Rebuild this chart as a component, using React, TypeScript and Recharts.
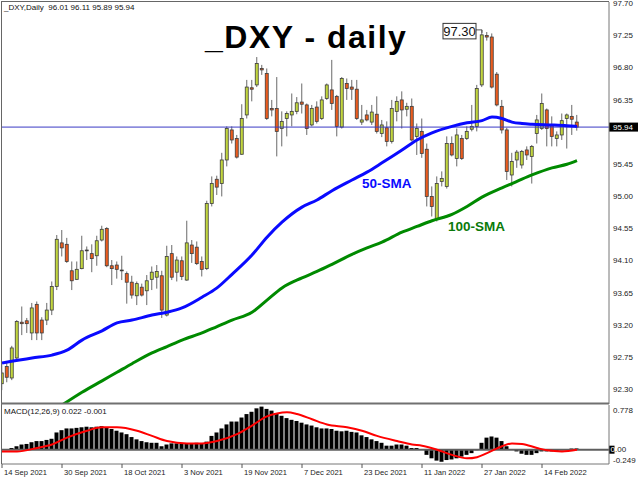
import React from "react";
import {
  ComposedChart,
  Bar,
  Line,
  XAxis,
  YAxis,
  ReferenceLine,
  ReferenceDot,
} from "recharts";

const FONT = '"Liberation Sans", Arial, sans-serif';

// ---- daily bars (index 0 = 14 Sep 2021) ----
const opens = [
  92.35, 92.59, 92.43, 92.71, 93.21, 93.23, 93.06, 93.46, 93.24, 93.24,
  93.38, 93.71, 94.32, 94.30, 93.93, 93.81, 93.96, 94.21, 94.17, 94.14,
  94.36, 94.52, 94.00, 94.01, 93.94, 93.89, 93.77, 93.58, 93.70, 93.65,
  93.81, 93.84, 93.86, 93.31, 94.17, 93.91, 94.07, 93.80, 94.29, 94.26,
  94.06, 93.96, 94.87, 95.21, 95.15, 95.48, 95.90, 95.78, 95.56, 96.11,
  96.49, 96.53, 96.76, 96.69, 96.20, 96.20, 95.92, 96.06, 96.11, 96.16,
  96.29, 96.25, 95.97, 96.22, 96.06, 96.34, 96.46, 96.37, 95.94, 96.55,
  96.50, 96.47, 96.01, 96.11, 96.01, 96.12, 95.85, 95.93, 95.74, 96.16,
  96.32, 96.19, 96.23, 95.81, 95.88, 95.63, 94.97, 94.66, 95.18, 95.11,
  95.71, 95.50, 95.78, 95.78, 95.91, 95.95, 96.53, 97.22, 97.20, 96.68,
  96.23, 95.90, 95.27, 95.48, 95.41, 95.62, 95.53, 95.85, 95.92, 96.18,
  95.97, 95.78, 95.83, 96.06, 96.09, 96.01,
];
const highs = [
  92.61, 92.64, 92.88, 93.24, 93.43, 93.27, 93.48, 93.50, 93.28, 93.48,
  93.78, 94.43, 94.50, 94.39, 94.06, 94.06, 94.42, 94.27, 94.30, 94.42,
  94.56, 94.54, 94.08, 94.06, 94.14, 93.92, 93.86, 93.78, 93.75, 93.87,
  93.99, 94.01, 93.93, 94.28, 94.29, 94.13, 94.13, 94.63, 94.36, 94.34,
  94.13, 94.91, 95.25, 95.26, 95.58, 95.95, 95.95, 95.83, 96.26, 96.60,
  96.60, 96.92, 96.81, 96.76, 96.32, 96.64, 96.16, 96.16, 96.41, 96.36,
  96.55, 96.27, 96.25, 96.30, 96.37, 96.55, 96.88, 96.39, 96.64, 96.62,
  96.60, 96.60, 96.25, 96.18, 96.25, 96.37, 96.04, 96.02, 96.32, 96.37,
  96.44, 96.28, 96.34, 95.99, 96.06, 95.71, 95.11, 95.25, 95.32, 95.81,
  95.81, 95.92, 95.83, 95.95, 96.25, 96.53, 97.30, 97.27, 97.25, 96.71,
  96.32, 95.93, 95.58, 95.62, 95.62, 95.67, 95.69, 96.11, 96.41, 96.20,
  96.09, 95.88, 96.13, 96.13, 96.25, 96.11,
];
const lows = [
  92.26, 92.37, 92.40, 92.68, 93.03, 93.06, 92.96, 92.96, 92.96, 93.17,
  93.31, 93.66, 94.13, 94.04, 93.66, 93.80, 93.95, 94.08, 93.91, 94.00,
  94.34, 93.98, 93.73, 93.82, 93.80, 93.47, 93.54, 93.45, 93.57, 93.45,
  93.66, 93.68, 93.27, 93.29, 93.80, 93.78, 93.80, 93.79, 94.04, 94.01,
  93.85, 93.94, 94.83, 94.99, 94.97, 95.39, 95.71, 95.50, 95.55, 96.06,
  96.30, 96.50, 96.67, 96.04, 96.09, 95.53, 95.67, 95.81, 95.95, 96.12,
  96.13, 95.83, 95.95, 95.99, 96.04, 96.32, 96.18, 95.81, 95.92, 96.32,
  96.32, 96.04, 95.97, 96.02, 95.97, 95.85, 95.80, 95.67, 95.71, 96.02,
  95.92, 96.09, 95.74, 95.55, 95.51, 94.83, 94.69, 94.62, 95.11, 95.08,
  95.53, 95.39, 95.48, 95.76, 95.88, 95.88, 96.50, 97.15, 96.48, 96.23,
  95.85, 95.20, 95.11, 95.37, 95.36, 95.48, 95.15, 95.71, 95.90, 95.67,
  95.67, 95.67, 95.76, 95.64, 95.83, 95.89,
];
const closes = [
  92.50, 92.44, 92.85, 93.22, 93.19, 93.19, 93.41, 93.06, 93.06, 93.38,
  93.71, 94.37, 94.25, 94.06, 93.79, 93.95, 94.21, 94.22, 94.10, 94.35,
  94.51, 94.00, 93.96, 93.95, 93.93, 93.77, 93.59, 93.75, 93.59, 93.79,
  93.91, 93.92, 93.38, 94.13, 93.84, 94.08, 93.85, 94.32, 94.17, 94.03,
  93.95, 94.87, 95.15, 95.10, 95.48, 95.92, 95.76, 95.52, 96.06, 96.50,
  96.47, 96.83, 96.74, 96.06, 96.18, 95.88, 96.02, 96.13, 96.16, 96.28,
  96.26, 95.92, 96.20, 96.02, 96.32, 96.53, 96.27, 95.95, 96.62, 96.48,
  96.47, 96.06, 96.04, 96.04, 96.15, 95.88, 95.97, 95.74, 96.20, 96.30,
  96.18, 96.23, 95.76, 95.92, 95.57, 94.97, 94.83, 95.15, 95.22, 95.71,
  95.55, 95.83, 95.50, 95.88, 95.95, 96.48, 97.23, 97.20, 96.50, 96.25,
  95.90, 95.32, 95.46, 95.59, 95.60, 95.55, 95.67, 96.04, 96.27, 95.92,
  95.81, 95.83, 96.03, 96.11, 96.05, 95.94,
];

// ---- moving averages (bar index / value) ----
const sma50Bars = [0, 6, 10, 13, 16, 20, 23, 26, 30, 33, 36, 40, 43, 46, 50, 53, 56, 60, 63, 66, 70, 73, 76, 80, 83, 86, 90, 93, 96, 98, 100, 102, 104, 106, 110, 113, 115];
const sma50Vals = [92.64, 92.71, 92.75, 92.82, 92.96, 93.09, 93.20, 93.24, 93.31, 93.35, 93.41, 93.56, 93.69, 93.88, 94.15, 94.40, 94.61, 94.82, 94.92, 95.05, 95.20, 95.31, 95.44, 95.62, 95.76, 95.86, 95.95, 96.00, 96.03, 96.08, 96.06, 96.01, 95.99, 95.98, 95.97, 95.96, 95.95];
const sma100Bars = [12, 16, 20, 23, 26, 30, 33, 36, 40, 43, 46, 50, 53, 56, 60, 63, 66, 70, 73, 76, 80, 83, 86, 90, 93, 96, 100, 103, 106, 110, 113, 115];
const sma100Vals = [92.05, 92.23, 92.39, 92.51, 92.63, 92.78, 92.87, 92.96, 93.06, 93.15, 93.24, 93.35, 93.52, 93.69, 93.83, 93.92, 94.02, 94.16, 94.25, 94.33, 94.47, 94.55, 94.63, 94.72, 94.83, 94.96, 95.09, 95.18, 95.27, 95.37, 95.42, 95.47];

// ---- MACD(12,26,9) ----
const macdMain = [
  0.0, 0.01, 0.03, 0.06, 0.09, 0.1, 0.13, 0.15, 0.15, 0.17,
  0.19, 0.3, 0.34, 0.37, 0.37, 0.38, 0.39, 0.4, 0.39, 0.4,
  0.41, 0.38, 0.36, 0.33, 0.3, 0.27, 0.22, 0.18, 0.15, 0.13,
  0.12, 0.12, 0.06, 0.09, 0.11, 0.11, 0.1, 0.11, 0.11, 0.12,
  0.11, 0.14, 0.24, 0.3, 0.37, 0.44, 0.49, 0.49, 0.56, 0.62,
  0.66, 0.72, 0.75, 0.71, 0.68, 0.63, 0.59, 0.55, 0.52, 0.5,
  0.47, 0.44, 0.42, 0.39, 0.37, 0.37, 0.36, 0.33, 0.32, 0.33,
  0.31, 0.3, 0.25, 0.22, 0.18, 0.15, 0.12, 0.07, 0.07, 0.09,
  0.09, 0.07, 0.03, 0.03, 0.0, -0.09, -0.15, -0.19, -0.21, -0.18,
  -0.17, -0.15, -0.12, -0.09, -0.06, -0.01, 0.12, 0.21, 0.23, 0.21,
  0.15, 0.06, 0.0, -0.03, -0.07, -0.09, -0.09, -0.06, -0.03, -0.03,
  -0.03, -0.03, -0.01, 0.0, 0.02, 0.022,
];
const signalBars = [0, 3, 7, 10, 13, 17, 20, 23, 27, 30, 33, 37, 40, 43, 47, 50, 53, 55, 57, 59, 62, 65, 69, 72, 75, 79, 82, 84, 87, 90, 93, 95, 97, 100, 102, 104, 107, 109, 112, 115];
const signalVals = [-0.03, -0.03, 0.03, 0.09, 0.21, 0.33, 0.39, 0.39, 0.33, 0.24, 0.15, 0.11, 0.11, 0.15, 0.27, 0.42, 0.58, 0.63, 0.65, 0.62, 0.53, 0.44, 0.39, 0.33, 0.24, 0.15, 0.09, 0.07, 0.0, -0.09, -0.15, -0.13, -0.06, 0.06, 0.11, 0.1, 0.03, -0.01, -0.03, -0.001];

// ---- axes ----
const dateTickBars = [0, 12, 24, 36, 48, 60, 72, 84, 96, 108];
const dateLabels = ["14 Sep 2021", "30 Sep 2021", "18 Oct 2021", "3 Nov 2021", "19 Nov 2021", "7 Dec 2021", "23 Dec 2021", "11 Jan 2022", "27 Jan 2022", "14 Feb 2022"];
const priceTicks = [92.3, 92.75, 93.2, 93.65, 94.1, 94.55, 95.0, 95.45, 96.35, 96.8, 97.25, 97.7];
const priceDomain = [92.066, 97.69];
const macdDomain = [-0.249, 0.778];
const barSlots = 121.4;

const lastPrice = 95.94;
const peakBar = 96;
const peakPrice = 97.3;

const UP = "#c2d63e";
const DOWN = "#ec5c1e";

const rows = opens.map((o, i) => ({
  i,
  open: o,
  high: highs[i],
  low: lows[i],
  close: closes[i],
  range: [lows[i], highs[i]],
  macd: macdMain[i],
  sma50: null as number | null,
  sma100: null as number | null,
  signal: null as number | null,
}));
sma50Bars.forEach((b, k) => (rows[b].sma50 = sma50Vals[k]));
sma100Bars.forEach((b, k) => (rows[b].sma100 = sma100Vals[k]));
signalBars.forEach((b, k) => (rows[b].signal = signalVals[k]));

const Candle = (props: any) => {
  const { x, y, width, height, payload } = props;
  if (!payload) return null;
  const cx = x + width / 2;
  const { open, close, high, low } = payload;
  const span = high - low || 1;
  const py = (v: number) => y + ((high - v) / span) * height;
  const top = py(Math.max(open, close));
  const bot = py(Math.min(open, close));
  const up = close >= open;
  return (
    <g>
      <line x1={cx} x2={cx} y1={y} y2={y + height} stroke="#6a6a6a" strokeWidth={1} />
      <rect
        x={cx - 1.5}
        y={top}
        width={3}
        height={Math.max(bot - top, 0.8)}
        fill={up ? UP : DOWN}
        stroke="#3c3c3c"
        strokeWidth={0.8}
      />
    </g>
  );
};

const PriceTick = (p: any) => (
  <text x={p.x} y={p.y + 2} dy="0.35em" fontSize={8} fill="#222" fontFamily={FONT} textAnchor="start">
    {Number(p.payload.value).toFixed(2)}
  </text>
);

const MacdTick = (p: any) => {
  const v = Number(p.payload.value);
  const shift = v > 0 ? 5 : -4;
  return (
    <text x={p.x} y={p.y + shift} dy="0.35em" fontSize={8} fill="#222" fontFamily={FONT} textAnchor="start">
      {v.toFixed(3)}
    </text>
  );
};

const DateTick = (p: any) => (
  <text x={p.x + 2} y={p.y + 5} fontSize={7.6} fill="#222" fontFamily={FONT} textAnchor="start">
    {dateLabels[dateTickBars.indexOf(p.payload.value)]}
  </text>
);

const PriceTag = (p: any) => {
  const vb = p.viewBox || {};
  const x = (vb.x || 0) + (vb.width || 0);
  const y = vb.y || 0;
  return (
    <g>
      <rect x={x} y={y - 4.5} width={29} height={9} fill="#000" />
      <text x={x + 4} y={y} dy="0.35em" fontSize={8} fill="#fff" fontFamily={FONT}>
        {lastPrice.toFixed(2)}
      </text>
    </g>
  );
};

const ZeroTag = (p: any) => {
  const vb = p.viewBox || {};
  const x = (vb.x || 0) + (vb.width || 0);
  const y = vb.y || 0;
  return (
    <g>
      <rect x={x} y={y - 4} width={5.5} height={8} fill="#000" />
      <text x={x + 1.5} y={y} dy="0.35em" fontSize={8} fontFamily={FONT}>
        <tspan fill="#fff">0</tspan>
        <tspan fill="#222">.00</tspan>
      </text>
    </g>
  );
};

const PeakTag = (p: any) => {
  const { cx, cy } = p;
  if (cx == null || cy == null) return null;
  const boxR = cx - 6;
  const boxW = 33;
  return (
    <g>
      <polyline points={`${boxR},${cy} ${cx},${cy} ${cx},${cy + 3}`} fill="none" stroke="#555" strokeWidth={1} />
      <rect x={boxR - boxW} y={cy - 6.5} width={boxW} height={15.5} fill="#fff" stroke="#333" strokeWidth={1} />
      <text x={boxR - boxW / 2} y={cy + 6} textAnchor="middle" fontSize={13} fill="#111" fontFamily={FONT}>
        {peakPrice.toFixed(2)}
      </text>
    </g>
  );
};

export default function App() {
  return (
    <div style={{ position: "absolute", left: 0, top: 0, width: 640, height: 480, background: "#fff", overflow: "hidden" }}>
      <div style={{ position: "absolute", left: 0, top: 0 }}>
        <ComposedChart width={640} height={405} data={rows} margin={{ top: 2, right: 0, bottom: 1, left: 2 }}>
          <XAxis type="number" dataKey="i" domain={[0, barSlots]} hide allowDataOverflow />
          <YAxis
            orientation="right"
            width={31}
            domain={priceDomain}
            ticks={priceTicks}
            interval={0}
            allowDataOverflow
            tickLine={false}
            tickSize={0}
            tickMargin={4}
            axisLine={{ stroke: "#777" }}
            tick={<PriceTick />}
          />
          <ReferenceLine y={lastPrice} stroke="#3a3ac4" strokeWidth={1} label={<PriceTag />} />
          <Bar dataKey="range" barSize={5} shape={(p: any) => <Candle {...p} />} isAnimationActive={false} />
          <Line dataKey="sma100" stroke="#008a00" strokeWidth={3} dot={false} connectNulls type="monotone" isAnimationActive={false} />
          <Line dataKey="sma50" stroke="#0a0aff" strokeWidth={3} dot={false} connectNulls type="monotone" isAnimationActive={false} />
          <ReferenceDot x={peakBar} y={peakPrice} r={0} shape={(p: any) => <PeakTag {...p} />} />
        </ComposedChart>
      </div>
      <div style={{ position: "absolute", left: 0, top: 404 }}>
        <ComposedChart width={640} height={76} data={rows} margin={{ top: 1, right: 0, bottom: 0, left: 2 }}>
          <XAxis
            type="number"
            dataKey="i"
            domain={[0, barSlots]}
            ticks={dateTickBars}
            interval={0}
            allowDataOverflow
            height={16}
            tickSize={4}
            tickMargin={2}
            tickLine={{ stroke: "#555" }}
            axisLine={{ stroke: "#777" }}
            tick={<DateTick />}
          />
          <YAxis
            orientation="right"
            width={31}
            domain={macdDomain}
            ticks={macdDomain}
            interval={0}
            allowDataOverflow
            tickLine={false}
            tickSize={0}
            tickMargin={4}
            axisLine={{ stroke: "#777" }}
            tick={<MacdTick />}
          />
          <Bar dataKey="macd" fill="#000" barSize={4} isAnimationActive={false} />
          <ReferenceLine y={0} stroke="#5e5e5e" strokeWidth={2} label={<ZeroTag />} />
          <Line dataKey="signal" stroke="#ff0000" strokeWidth={2} dot={false} connectNulls type="monotone" isAnimationActive={false} />
        </ComposedChart>
      </div>
      <svg width={640} height={480} style={{ position: "absolute", left: 0, top: 0, pointerEvents: "none" }}>
        <line x1={1.5} y1={1} x2={1.5} y2={464} stroke="#666" strokeWidth={1} />
        <line x1={1} y1={1.5} x2={609} y2={1.5} stroke="#666" strokeWidth={1} />
        <line x1={1} y1={403.5} x2={609} y2={403.5} stroke="#707070" strokeWidth={2} />
        <text x={4} y={10} fontSize={8} fill="#111" fontFamily={FONT} xmlSpace="preserve">
          {"_DXY,Daily  96.01 96.11 95.89 95.94"}
        </text>
        <text x={205} y={48} fontSize={32} fontWeight="bold" fill="#000" fontFamily={FONT} letterSpacing={1.5}>
          _DXY - daily
        </text>
        <text x={362} y={188} fontSize={13.5} fontWeight="bold" fill="#0a0aff" fontFamily={FONT}>
          50-SMA
        </text>
        <text x={448} y={231} fontSize={13.5} fontWeight="bold" fill="#0a7a0a" fontFamily={FONT}>
          100-SMA
        </text>
        <text x={4} y={414} fontSize={8} fill="#111" fontFamily={FONT}>
          MACD(12,26,9) 0.022 -0.001
        </text>
      </svg>
    </div>
  );
}
